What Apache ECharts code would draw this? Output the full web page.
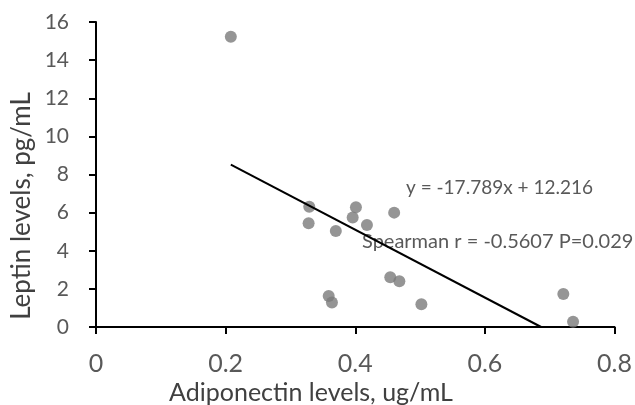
<!DOCTYPE html>
<html><head><meta charset="utf-8">
<script src="https://cdn.jsdelivr.net/npm/echarts@6/dist/echarts.min.js"></script>
<style>html,body{margin:0;padding:0;background:#fff}#c{width:635px;height:405px}</style>
</head><body><div id="c"></div>
<script>
const adiponectin = [0.208, 0.329, 0.328, 0.370, 0.401, 0.396, 0.418, 0.460, 0.454, 0.468, 0.359, 0.364, 0.502, 0.721, 0.736];
const leptin      = [15.23, 6.31, 5.44, 5.04, 6.28, 5.75, 5.35, 6.00, 2.61, 2.40, 1.63, 1.28, 1.19, 1.73, 0.28];
const trendSlope = -17.789, trendIntercept = 12.216;
const xTicks = [0, 0.2, 0.4, 0.6, 0.8];
const yTicks = [0, 2, 4, 6, 8, 10, 12, 14, 16];
const equationText = 'y = -17.789x + 12.216';
const spearmanText = 'Spearman r = -0.5607 P=0.029';
const xTitle = 'Adiponectin levels, ug/mL';
const yTitle = 'Leptin levels, pg/mL';

const points = adiponectin.map((x, i) => [x, leptin[i]]);
const xMin = Math.min(...adiponectin);
const xZero = -trendIntercept / trendSlope;
const trend = [[xMin, trendSlope * xMin + trendIntercept], [xZero, 0]];

const font = 'Lato, "Open Sans", sans-serif';
const chart = echarts.init(document.getElementById('c'), null, {renderer: 'canvas'});
chart.setOption({
  animation: false,
  backgroundColor: '#fff',
  grid: {left: 96, right: 19, top: 22, bottom: 78, containLabel: false},
  xAxis: {
    type: 'value', min: 0, max: 0.8, interval: 0.2,
    splitLine: {show: false},
    axisLine: {show: true, onZero: false, lineStyle: {color: '#000', width: 2}},
    axisTick: {show: true, length: 7, lineStyle: {color: '#000', width: 2}},
    axisLabel: {color: '#595959', fontSize: 25, fontFamily: font, margin: 24,
      formatter: v => xTicks.includes(+v.toFixed(1)) ? String(+v.toFixed(1)) : ''}
  },
  yAxis: {
    type: 'value', min: 0, max: 16, interval: 2,
    splitLine: {show: false},
    axisLine: {show: true, lineStyle: {color: '#000', width: 2}},
    axisTick: {show: true, length: 7, lineStyle: {color: '#000', width: 2}},
    axisLabel: {color: '#595959', fontSize: 21, fontFamily: font, margin: 27,
      formatter: v => yTicks.includes(v) ? String(v) : ''}
  },
  series: [
    {type: 'scatter', data: points, symbolSize: 12,
     itemStyle: {color: '#7a7a7a'}, z: 3},
    {type: 'line', data: trend, showSymbol: false, symbol: 'none',
     lineStyle: {color: '#000', width: 2}, z: 4}
  ],
  graphic: [
    {type: 'text', x: 406, y: 188, style: {text: equationText, fill: '#595959', font: '19px ' + font, verticalAlign: 'middle'}},
    {type: 'text', x: 362, y: 242, style: {text: spearmanText, fill: '#595959', font: '20px ' + font, verticalAlign: 'middle'}},
    {type: 'text', x: 311, y: 393, style: {text: xTitle, fill: '#404040', font: '25px ' + font, align: 'center', verticalAlign: 'middle'}},
    {type: 'text', x: 22, y: 206, rotation: Math.PI / 2, style: {text: yTitle, fill: '#404040', font: '26px ' + font, align: 'center', verticalAlign: 'middle'}}
  ]
});
</script></body></html>
